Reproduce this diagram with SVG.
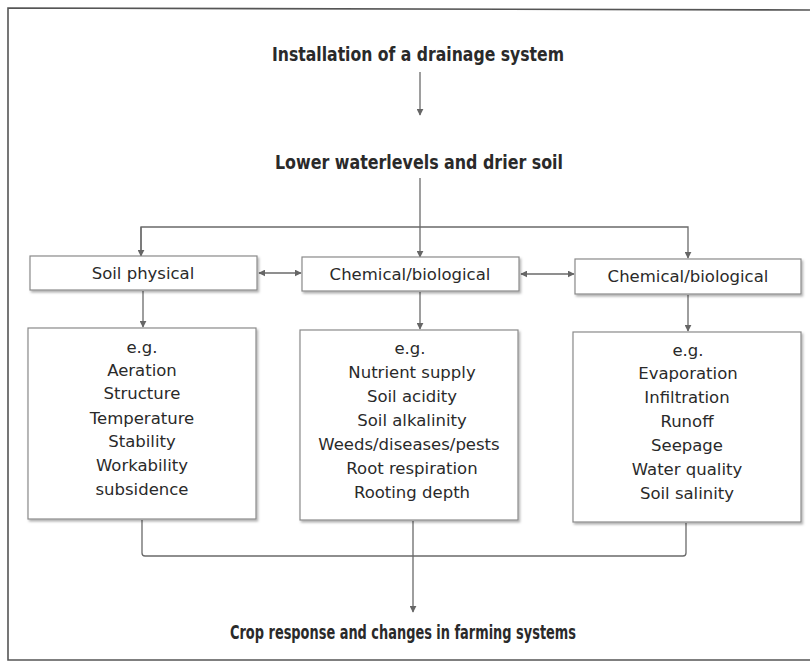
<svg xmlns="http://www.w3.org/2000/svg" width="810" height="663" viewBox="0 0 810 663">
<defs>
<marker id="ah" viewBox="0 0 10 10" refX="9" refY="5" markerWidth="7" markerHeight="7" markerUnits="userSpaceOnUse" orient="auto-start-reverse">
<path d="M0,0 L10,5 L0,10 z" fill="#666"/>
</marker>
<filter id="sh" x="-5%" y="-5%" width="110%" height="120%">
<feDropShadow dx="1.5" dy="2" stdDeviation="1" flood-color="#000" flood-opacity="0.3"/>
</filter>
</defs>
<style>
.box{fill:#fff;stroke:#8a8a8a;stroke-width:1.2;filter:url(#sh)}
.ln{fill:none;stroke:#6a6a6a;stroke-width:1.3}
.hd{font-family:"DejaVu Sans Condensed","DejaVu Sans",sans-serif;font-size:19px;fill:#2a2a2a;text-anchor:middle;font-weight:bold}
.bt{font-family:"DejaVu Sans",sans-serif;font-size:16.5px;fill:#2a2a2a;text-anchor:middle}
.frame{fill:none;stroke:#555;stroke-width:1.6}
</style>
<rect width="810" height="663" fill="#fff"/>
<g id="frame">
<path class="frame" d="M810,10 L8,8 L8,660 L810,660"/>
</g>
<g id="connectors">
<line class="ln" x1="420" y1="72" x2="420" y2="115" marker-end="url(#ah)"/>
<line class="ln" x1="420" y1="178" x2="420" y2="257" marker-end="url(#ah)"/>
<path class="ln" d="M141,257 L141,227 L688,227 L688,258" marker-end="url(#ah)"/>
<line class="ln" x1="141" y1="227" x2="141" y2="256" marker-end="url(#ah)"/>
<line class="ln" x1="259" y1="273" x2="301" y2="273" marker-start="url(#ah)" marker-end="url(#ah)"/>
<line class="ln" x1="521" y1="274" x2="574" y2="274" marker-start="url(#ah)" marker-end="url(#ah)"/>
<line class="ln" x1="143" y1="291" x2="143" y2="327" marker-end="url(#ah)"/>
<line class="ln" x1="420" y1="292" x2="420" y2="329" marker-end="url(#ah)"/>
<line class="ln" x1="688" y1="295" x2="688" y2="331" marker-end="url(#ah)"/>
<path class="ln" d="M142,520 L142,553 Q142,556 145,556 L683,556 Q686,556 686,553 L686,523"/>
<line class="ln" x1="413" y1="521" x2="413" y2="612" marker-end="url(#ah)"/>
</g>
<g id="title">
<text class="hd" x="418" y="61" textLength="292" lengthAdjust="spacingAndGlyphs">Installation of a drainage system</text>
</g>
<g id="lower">
<text class="hd" x="419" y="169" textLength="288" lengthAdjust="spacingAndGlyphs">Lower waterlevels and drier soil</text>
</g>
<g id="soil-physical">
<rect class="box" x="30" y="256" width="227" height="34"/>
<text class="bt" x="143" y="279">Soil physical</text>
</g>
<g id="chem-bio-1">
<rect class="box" x="302" y="257" width="217" height="34"/>
<text class="bt" x="410" y="280">Chemical/biological</text>
</g>
<g id="chem-bio-2">
<rect class="box" x="575" y="259" width="226" height="35"/>
<text class="bt" x="688" y="282">Chemical/biological</text>
</g>
<g id="list-physical">
<rect class="box" x="28" y="328" width="228" height="191"/>
<text class="bt" x="142" y="353">e.g.</text>
<text class="bt" x="142" y="376">Aeration</text>
<text class="bt" x="142" y="399">Structure</text>
<text class="bt" x="142" y="424">Temperature</text>
<text class="bt" x="142" y="447">Stability</text>
<text class="bt" x="142" y="471">Workability</text>
<text class="bt" x="142" y="495">subsidence</text>
</g>
<g id="list-chem-1">
<rect class="box" x="300" y="330" width="218" height="190"/>
<text class="bt" x="410" y="354">e.g.</text>
<text class="bt" x="412" y="378">Nutrient supply</text>
<text class="bt" x="412" y="402">Soil acidity</text>
<text class="bt" x="412" y="426">Soil alkalinity</text>
<text class="bt" x="409" y="450">Weeds/diseases/pests</text>
<text class="bt" x="412" y="474">Root respiration</text>
<text class="bt" x="412" y="498">Rooting depth</text>
</g>
<g id="list-chem-2">
<rect class="box" x="573" y="332" width="228" height="190"/>
<text class="bt" x="688" y="356">e.g.</text>
<text class="bt" x="688" y="379">Evaporation</text>
<text class="bt" x="687" y="403">Infiltration</text>
<text class="bt" x="687" y="427">Runoff</text>
<text class="bt" x="687" y="451">Seepage</text>
<text class="bt" x="687" y="475">Water quality</text>
<text class="bt" x="687" y="499">Soil salinity</text>
</g>
<g id="crop">
<text class="hd" x="403" y="639" textLength="346" lengthAdjust="spacingAndGlyphs">Crop response and changes in farming systems</text>
</g>
</svg>
